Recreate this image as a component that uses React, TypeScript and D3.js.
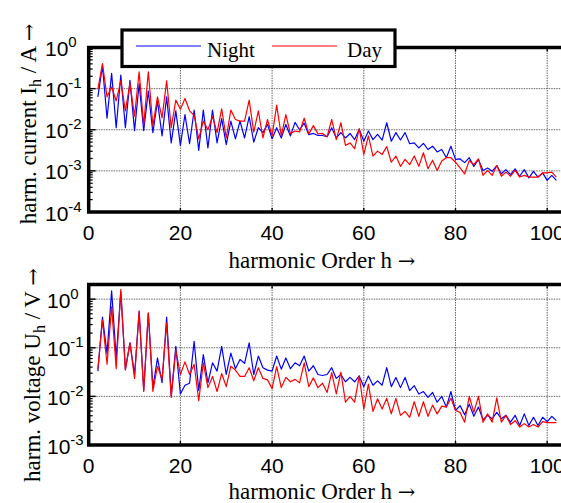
import React from 'react';
import * as d3 from 'd3';

// harmonic orders 2..102
const harmonics: number[] = d3.range(2, 103);

// log10 of harmonic current (A)
const nightCurrentLog = [
  -1.2, -0.45, -1.72, -0.63, -1.95, -0.67, -1.95, -0.8, -2.02, -0.88,
  -2.02, -1.06, -2.07, -1.3, -2.15, -1.2, -2.32, -1.54, -2.38, -1.63,
  -2.34, -1.52, -2.5, -1.52, -2.44, -1.52, -2.32, -1.73, -2.36, -1.79,
  -2.22, -1.79, -2.2, -1.68, -2.3, -1.95, -2.07, -1.87, -2.22, -1.95,
  -2.2, -1.87, -2.15, -1.82, -2.0, -1.84, -2.12, -2.09, -2.14, -2.14,
  -2.17, -1.95, -2.2, -2.07, -2.2, -2.09, -2.24, -1.99, -2.28, -2.03,
  -2.24, -2.11, -2.25, -1.83, -2.28, -2.07, -2.25, -2.07, -2.34, -2.32,
  -2.44, -2.33, -2.48, -2.4, -2.54, -2.48, -2.68, -2.4, -2.72, -2.71,
  -2.8, -2.68, -2.89, -2.72, -2.99, -2.93, -3.01, -2.87, -3.07, -2.97,
  -3.09, -2.95, -3.13, -2.97, -3.17, -3.01, -3.15, -3.05, -3.23, -3.11, -3.23,
];
const dayCurrentLog = [
  -1.02, -0.39, -1.2, -0.96, -1.3, -0.81, -1.54, -0.88, -1.67, -0.59,
  -1.89, -0.59, -1.91, -1.2, -1.71, -0.81, -1.95, -1.28, -1.5, -1.24,
  -1.54, -1.65, -2.22, -1.79, -2.0, -1.68, -2.07, -1.49, -2.2, -1.52,
  -1.75, -1.79, -1.79, -1.28, -2.06, -1.54, -2.2, -1.75, -2.15, -1.4,
  -2.15, -1.63, -2.1, -2.03, -2.05, -1.72, -2.1, -1.9, -2.1, -2.09,
  -2.17, -1.75, -2.24, -1.83, -2.38, -2.32, -2.46, -1.97, -2.6, -2.15,
  -2.64, -2.52, -2.6, -2.41, -2.79, -2.64, -2.89, -2.72, -2.85, -2.64,
  -2.89, -2.56, -2.95, -2.74, -2.99, -2.76, -2.68, -2.68, -2.79, -2.93,
  -3.07, -2.75, -2.85, -2.71, -3.11, -2.99, -3.11, -2.87, -3.13, -3.03,
  -3.13, -2.99, -3.15, -3.11, -3.15, -3.15, -3.15, -3.05, -3.05, -3.03, -3.15,
];
// log10 of harmonic voltage (V)
const nightVoltageLog = [
  -1.48, -0.37, -1.12, 0.17, -1.21, 0.15, -1.44, -0.9, -1.55, -0.26,
  -1.88, -0.29, -1.82, -1.21, -1.72, -0.37, -1.99, -0.97, -1.95, -1.77,
  -1.73, -0.87, -1.88, -1.14, -1.72, -1.31, -1.48, -0.97, -1.55, -1.11,
  -1.43, -1.24, -1.32, -0.9, -1.55, -1.17, -1.41, -1.46, -1.48, -1.17,
  -1.44, -1.21, -1.43, -1.31, -1.37, -1.17, -1.48, -1.37, -1.55, -1.57,
  -1.55, -1.41, -1.63, -1.55, -1.7, -1.61, -1.7, -1.58, -1.8, -1.58,
  -1.77, -1.68, -1.77, -1.41, -1.8, -1.61, -1.82, -1.61, -1.88, -1.78,
  -1.95, -1.9, -2.02, -1.92, -2.12, -2.0, -2.22, -1.9, -2.29, -2.19,
  -2.38, -2.16, -2.41, -2.22, -2.48, -2.39, -2.46, -2.33, -2.46, -2.39,
  -2.53, -2.39, -2.6, -2.36, -2.6, -2.43, -2.6, -2.43, -2.52, -2.41, -2.5,
];
const dayVoltageLog = [
  -1.44, -0.43, -1.34, -0.16, -1.43, 0.2, -1.46, -0.9, -1.63, -0.24,
  -1.9, -0.28, -1.9, -1.38, -1.65, -0.49, -2.02, -1.05, -1.55, -1.29,
  -1.55, -1.34, -2.09, -1.31, -1.82, -1.59, -1.9, -1.53, -1.8, -1.38,
  -1.46, -1.59, -1.59, -1.41, -1.68, -1.41, -1.63, -1.66, -1.84, -1.39,
  -1.82, -1.61, -1.7, -1.65, -1.72, -1.31, -1.8, -1.62, -1.82, -1.73,
  -1.92, -1.51, -1.95, -1.5, -2.12, -2.0, -2.12, -1.58, -2.26, -1.75,
  -2.31, -2.05, -2.26, -2.04, -2.36, -2.04, -2.39, -2.31, -2.43, -2.11,
  -2.41, -2.11, -2.41, -2.18, -2.36, -2.2, -2.22, -2.04, -2.29, -2.33,
  -2.53, -2.0, -2.33, -2.0, -2.53, -2.36, -2.53, -2.03, -2.53, -2.39,
  -2.58, -2.5, -2.63, -2.56, -2.63, -2.58, -2.63, -2.52, -2.54, -2.54, -2.54,
];

const xTicks = [0, 20, 40, 60, 80, 100];
const currentExponents = [0, -1, -2, -3, -4];
const voltageExponents = [0, -1, -2, -3];
const seriesNames = ['Night', 'Day'];
const seriesColors = ['#0000ff', '#ff0000'];
const xLabelText = 'harmonic Order h ';
const ARROW = '\u2192';

const W = 561;
const H = 503;
const X0 = 88.7;
const xScale = d3.scaleLinear().domain([0, 105]).range([X0, X0 + 105 * 4.585]);

type PanelProps = {
  top: number;
  bottom: number;
  domain: [number, number];
  exps: number[];
  night: number[];
  day: number[];
  labelMain: string;
  labelSub: string;
  labelTail: string;
  labelCenterY: number;
  labelBaseX: number;
  tickLabelX: number;
  xLabelY: number;
  legend?: boolean;
};

const tickFont = "'Liberation Sans', Arial, sans-serif";
const serif = "'Liberation Serif', 'Times New Roman', serif";
const arrowFont = "'DejaVu Serif', serif";

function Panel(p: PanelProps) {
  const y = d3.scaleLog().domain(p.domain).range([p.bottom, p.top]);
  const xEnd = xScale(105);
  const line = d3
    .line<[number, number]>()
    .x((d) => xScale(d[0]))
    .y((d) => y(Math.pow(10, d[1])));
  const nightPts: [number, number][] = harmonics.map((h, i) => [h, p.night[i]]);
  const dayPts: [number, number][] = harmonics.map((h, i) => [h, p.day[i]]);

  const lo = Math.floor(Math.log10(p.domain[0]));
  const hi = Math.ceil(Math.log10(p.domain[1]));
  const minor: number[] = [];
  for (let d = lo; d <= hi; d++) {
    for (let k = 2; k <= 9; k++) {
      const v = k * Math.pow(10, d);
      if (v > p.domain[0] && v < p.domain[1]) minor.push(v);
    }
  }
  const majors = p.exps.map((e) => Math.pow(10, e));

  return (
    <g>
      {majors
        .filter((v) => y(v) > p.top + 3 && y(v) < p.bottom - 3)
        .map((v, i) => (
          <line key={'gh' + i} x1={X0} x2={xEnd} y1={y(v)} y2={y(v)} stroke="#444" strokeWidth={0.8} strokeDasharray="1.5,1" />
        ))}
      {xTicks
        .filter((t) => t > 0)
        .map((t) => (
          <line key={'gv' + t} x1={xScale(t)} x2={xScale(t)} y1={p.top} y2={p.bottom} stroke="#444" strokeWidth={0.8} strokeDasharray="1.5,1" />
        ))}
      <path d={line(nightPts) || ''} fill="none" stroke={seriesColors[0]} strokeWidth={1.2} strokeLinejoin="round" />
      <path d={line(dayPts) || ''} fill="none" stroke={seriesColors[1]} strokeWidth={1.2} strokeLinejoin="round" />
      {minor.map((v, i) => (
        <line key={'mt' + i} x1={X0} x2={X0 + 4} y1={y(v)} y2={y(v)} stroke="#000" strokeWidth={1.2} />
      ))}
      {majors.map((v, i) => (
        <line key={'Mt' + i} x1={X0} x2={X0 + 7} y1={y(v)} y2={y(v)} stroke="#000" strokeWidth={1.4} />
      ))}
      {xTicks.map((t) => (
        <g key={'xt' + t}>
          <line x1={xScale(t)} x2={xScale(t)} y1={p.bottom} y2={p.bottom - 4} stroke="#000" strokeWidth={1.4} />
          <line x1={xScale(t)} x2={xScale(t)} y1={p.top} y2={p.top + 4} stroke="#000" strokeWidth={1.4} />
        </g>
      ))}
      <rect x={X0} y={p.top} width={xEnd - X0} height={p.bottom - p.top} fill="none" stroke="#000" strokeWidth={3.5} />
      {p.exps.map((e) => {
        const gy = y(Math.pow(10, e));
        return (
          <text key={'yl' + e} x={p.tickLabelX} y={gy + 8.5} fontFamily={tickFont} fontSize={21} fill="#000">
            10
            <tspan dy={-9} fontSize={15}>
              {String(e)}
            </tspan>
          </text>
        );
      })}
      {xTicks.map((t) => (
        <text key={'xl' + t} x={xScale(t)} y={p.bottom + 28} textAnchor="middle" fontFamily={tickFont} fontSize={21} fill="#000">
          {t}
        </text>
      ))}
      <text x={322} y={p.xLabelY} textAnchor="middle" fontFamily={serif} fontSize={23} fill="#000">
        {xLabelText}
        <tspan fontFamily={arrowFont} fontSize={21}>{ARROW}</tspan>
      </text>
      <text
        transform={`translate(${p.labelBaseX},${p.labelCenterY}) rotate(-90)`}
        textAnchor="middle"
        fontFamily={serif}
        fontSize={23}
        fill="#000"
      >
        {p.labelMain}
        <tspan dy={5} fontSize={16}>
          {p.labelSub}
        </tspan>
        <tspan dy={-5}>{p.labelTail}</tspan>
        <tspan fontFamily={arrowFont} fontSize={21}>{ARROW}</tspan>
      </text>
      {p.legend && (
        <g>
          <rect x={122} y={30} width={273} height={36.5} fill="#fff" stroke="#000" strokeWidth={3.2} />
          <line x1={136} x2={201} y1={46} y2={46} stroke={seriesColors[0]} strokeWidth={1.2} />
          <text x={207} y={57} fontFamily={serif} fontSize={21} fill="#000">
            {seriesNames[0]}
          </text>
          <line x1={272} x2={337} y1={46} y2={46} stroke={seriesColors[1]} strokeWidth={1.2} />
          <text x={347} y={57} fontFamily={serif} fontSize={21} fill="#000">
            {seriesNames[1]}
          </text>
        </g>
      )}
    </g>
  );
}

export default function App() {
  return (
    <svg width={W} height={H} viewBox={`0 0 ${W} ${H}`} style={{ position: 'absolute', left: 0, top: 0, background: '#fff' }}>
      <rect x={0} y={0} width={W} height={H} fill="#fff" />
      <Panel
        top={47.5}
        bottom={212}
        domain={[1e-4, 1]}
        exps={currentExponents}
        night={nightCurrentLog}
        day={dayCurrentLog}
        labelMain="harm. current I"
        labelSub="h"
        labelTail=" / A "
        labelCenterY={124}
        labelBaseX={36}
        tickLabelX={45}
        xLabelY={268}
        legend
      />
      <Panel
        top={284.5}
        bottom={445}
        domain={[1e-3, 2]}
        exps={voltageExponents}
        night={nightVoltageLog}
        day={dayVoltageLog}
        labelMain="harm. voltage U"
        labelSub="h"
        labelTail=" / V "
        labelCenterY={375}
        labelBaseX={40}
        tickLabelX={47}
        xLabelY={499}
      />
    </svg>
  );
}
